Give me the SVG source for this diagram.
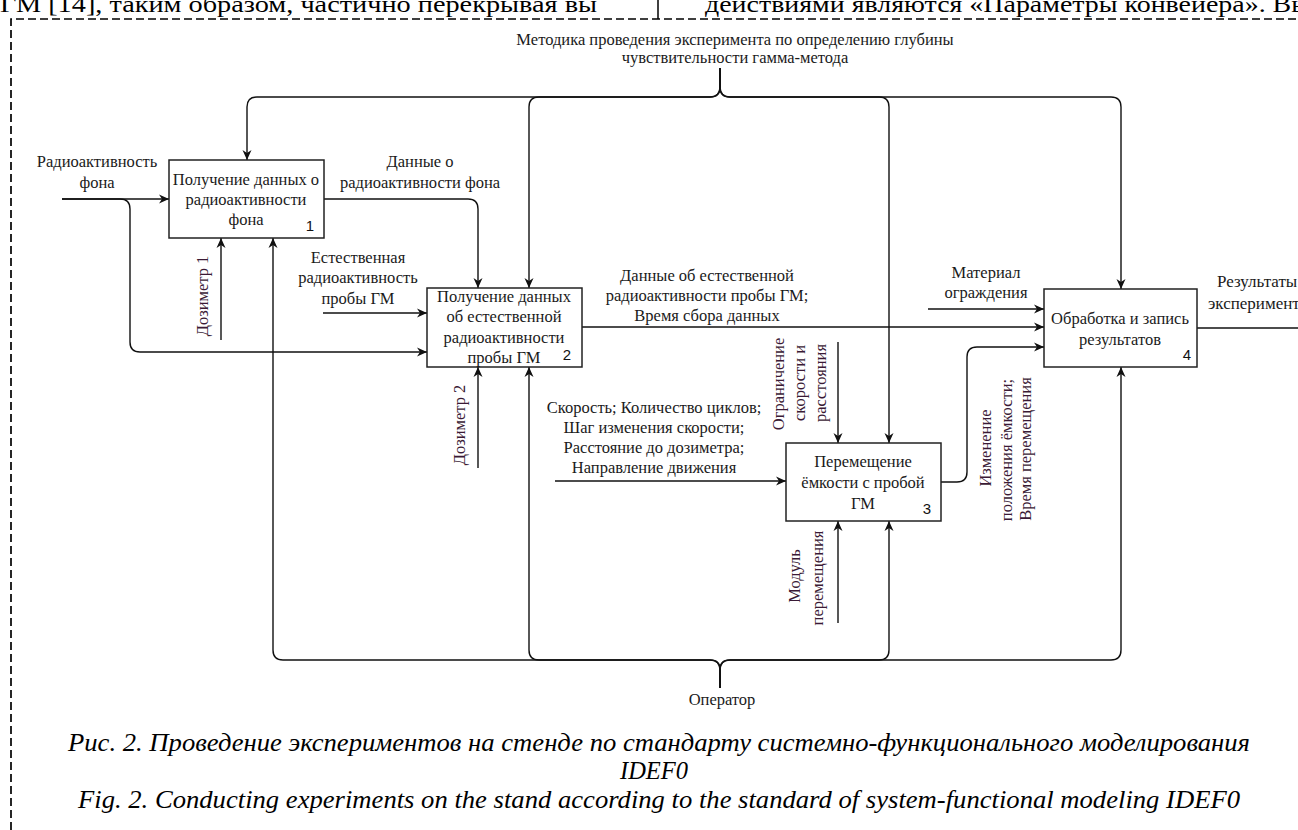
<svg xmlns="http://www.w3.org/2000/svg" width="1298" height="830" viewBox="0 0 1298 830">
<defs>
<style>
.box{fill:#fff;stroke:#222;stroke-width:1.5}
.t{font-family:"Liberation Serif","Times New Roman",serif;font-size:16.5px;fill:#1a1a1a;text-anchor:middle}
.r{font-family:"Liberation Serif","Times New Roman",serif;font-size:16.5px;fill:#3a1a35;text-anchor:middle}
.n{font-family:"Liberation Sans",Arial,sans-serif;font-size:15px;fill:#111;text-anchor:middle}
.c{font-family:"Liberation Serif","Times New Roman",serif;font-size:24.5px;font-style:italic;fill:#000;text-anchor:middle}
.doc{font-family:"Liberation Serif","Times New Roman",serif;font-size:24px;fill:#000}
.e{fill:none;stroke:#111;stroke-width:1.4}
.a{marker-end:url(#arr)}
</style>
<marker id="arr" viewBox="0 0 10 10" refX="10" refY="5" markerWidth="10" markerHeight="10" markerUnits="userSpaceOnUse" orient="auto">
<path d="M0,0.5 L10,5 L0,9.5 L3,5 Z" fill="#111"/>
</marker>
</defs>
<rect width="1298" height="830" fill="#fff"/>

<g id="page">
<text class="doc" x="0" y="12" textLength="597" lengthAdjust="spacingAndGlyphs">ГМ [14], таким образом, частично перекрывая вы</text>
<text class="doc" x="705" y="12" textLength="605" lengthAdjust="spacingAndGlyphs">действиями являются «Параметры конвейера». Вы</text>
<line x1="658" y1="0" x2="658" y2="19" stroke="#000" stroke-width="1.5"/>
<path d="M11,830 V19 H1298" fill="none" stroke="#000" stroke-width="1.7" stroke-dasharray="8,4"/>
</g>

<g id="connectors">
<path class="e a" d="M720,68 V87 Q720,97 710,97 H257 Q247,97 247,107 V160"/>
<path class="e a" d="M720,68 V87 Q720,97 710,97 H539 Q529,97 529,107 V288"/>
<path class="e a" d="M720,68 V87 Q720,97 730,97 H879 Q889,97 889,107 V443"/>
<path class="e a" d="M720,68 V87 Q720,97 730,97 H1111 Q1121,97 1121,107 V289"/>
<path class="e a" d="M720,688 V670 Q720,660 710,660 H283 Q273,660 273,650 V238"/>
<path class="e a" d="M720,688 V670 Q720,660 710,660 H539 Q529,660 529,650 V367"/>
<path class="e a" d="M720,688 V670 Q720,660 730,660 H879 Q889,660 889,650 V521"/>
<path class="e a" d="M720,688 V670 Q720,660 730,660 H1111 Q1121,660 1121,650 V367"/>
<path class="e a" d="M62,199 H169"/>
<path class="e a" d="M62,199 H120 Q130,199 130,209 V342 Q130,352 140,352 H427"/>
<path class="e a" d="M221,340 V238"/>
<path class="e a" d="M324,199 H468 Q478,199 478,209 V288"/>
<path class="e a" d="M323,313 H427"/>
<path class="e a" d="M478,468 V367"/>
<path class="e a" d="M582,327 H1044"/>
<path class="e a" d="M928,309 H1044"/>
<path class="e a" d="M555,481 H786"/>
<path class="e a" d="M838,342 V443"/>
<path class="e a" d="M838,623 V521"/>
<path class="e a" d="M941,482 H957 Q967,482 967,472 V357 Q967,347 977,347 H1044"/>
<path class="e" d="M1197,328 H1298"/>
</g>

<g id="labels">
<text class="t" x="735" y="45">Методика проведения эксперимента по определению глубины</text>
<text class="t" x="735" y="63">чувствительности гамма-метода</text>
<text class="t" x="97" y="167">Радиоактивность</text>
<text class="t" x="97" y="188">фона</text>
<text class="t" x="420" y="167">Данные о</text>
<text class="t" x="420" y="188">радиоактивности фона</text>
<text class="t" x="358" y="263">Естественная</text>
<text class="t" x="358" y="283">радиоактивность</text>
<text class="t" x="358" y="304">пробы ГМ</text>
<text class="t" x="707" y="281">Данные об естественной</text>
<text class="t" x="707" y="301">радиоактивности пробы ГМ;</text>
<text class="t" x="707" y="321">Время сбора данных</text>
<text class="t" x="986" y="278">Материал</text>
<text class="t" x="986" y="298">ограждения</text>
<text class="t" x="1217" y="287" style="text-anchor:start;font-size:17px">Результаты</text>
<text class="t" x="1208" y="309" style="text-anchor:start;font-size:17px">эксперимента</text>
<text class="t" x="654" y="413">Скорость; Количество циклов;</text>
<text class="t" x="654" y="433">Шаг изменения скорости;</text>
<text class="t" x="654" y="453">Расстояние до дозиметра;</text>
<text class="t" x="654" y="473">Направление движения</text>
<text class="t" x="722" y="705">Оператор</text>
<text class="r" x="208" y="296" transform="rotate(-90 208 296)">Дозиметр 1</text>
<text class="r" x="465" y="425" transform="rotate(-90 465 425)">Дозиметр 2</text>
<text class="r" x="784" y="384" transform="rotate(-90 784 384)">Ограничение</text>
<text class="r" x="805" y="383" transform="rotate(-90 805 383)">скорости и</text>
<text class="r" x="826" y="383" transform="rotate(-90 826 383)">расстояния</text>
<text class="r" x="800" y="576" transform="rotate(-90 800 576)">Модуль</text>
<text class="r" x="823" y="578" transform="rotate(-90 823 578)">перемещения</text>
<text class="r" x="991" y="448" transform="rotate(-90 991 448)">Изменение</text>
<text class="r" x="1012" y="450" transform="rotate(-90 1012 450)">положения ёмкости;</text>
<text class="r" x="1031" y="449" transform="rotate(-90 1031 449)">Время перемещения</text>
</g>

<g id="node1">
<rect class="box" x="169" y="160" width="155" height="78"/>
<text class="t" x="246" y="185">Получение данных о</text>
<text class="t" x="246" y="205">радиоактивности</text>
<text class="t" x="246" y="225">фона</text>
<text class="n" x="310" y="231">1</text>
</g>

<g id="node2">
<rect class="box" x="427" y="288" width="155" height="79"/>
<text class="t" x="504" y="302">Получение данных</text>
<text class="t" x="504" y="322">об естественной</text>
<text class="t" x="504" y="343">радиоактивности</text>
<text class="t" x="504" y="363">пробы ГМ</text>
<text class="n" x="567" y="360">2</text>
</g>

<g id="node3">
<rect class="box" x="786" y="443" width="155" height="78"/>
<text class="t" x="863" y="467">Перемещение</text>
<text class="t" x="863" y="488">ёмкости с пробой</text>
<text class="t" x="863" y="509">ГМ</text>
<text class="n" x="927" y="514">3</text>
</g>

<g id="node4">
<rect class="box" x="1044" y="289" width="153" height="78"/>
<text class="t" x="1120" y="324">Обработка и запись</text>
<text class="t" x="1120" y="345">результатов</text>
<text class="n" x="1187" y="360">4</text>
</g>

<g id="caption">
<text class="c" x="659" y="751" textLength="1182" lengthAdjust="spacingAndGlyphs">Рис. 2. Проведение экспериментов на стенде по стандарту системно-функционального моделирования</text>
<text class="c" x="654" y="779">IDEF0</text>
<text class="c" x="659" y="808" textLength="1162" lengthAdjust="spacingAndGlyphs">Fig. 2. Conducting experiments on the stand according to the standard of system-functional modeling IDEF0</text>
</g>
</svg>
